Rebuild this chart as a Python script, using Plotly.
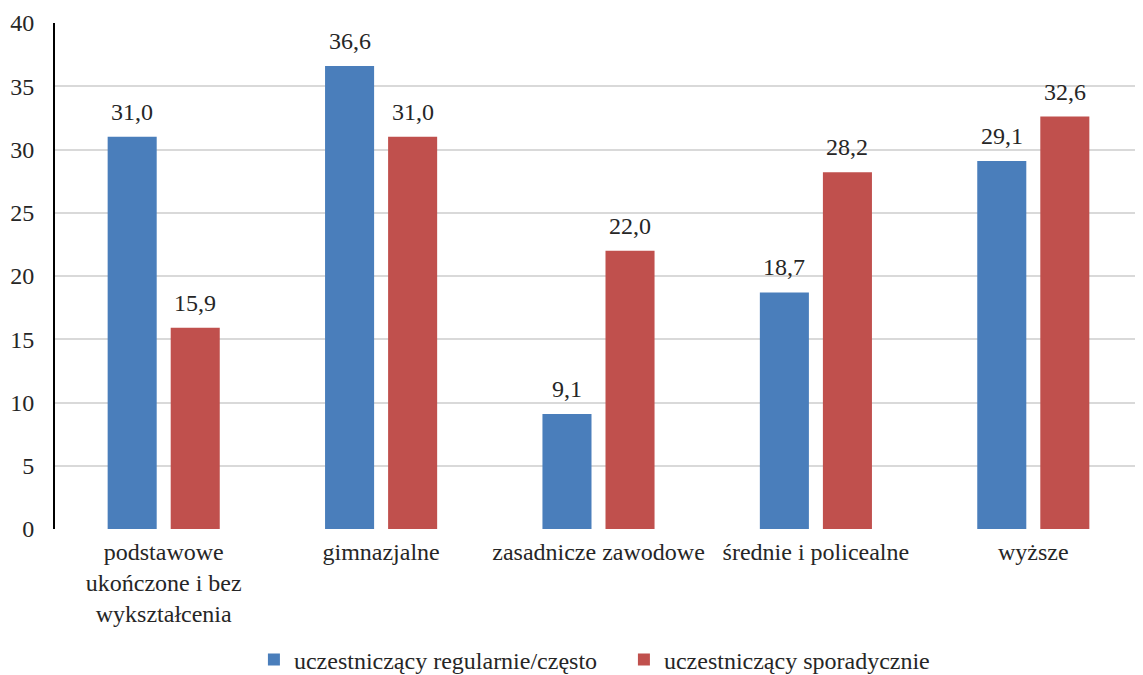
import plotly.graph_objects as go

categories = ["podstawowe<br>ukończone i bez<br>wykształcenia", "gimnazjalne",
              "zasadnicze zawodowe", "średnie i policealne", "wyższe"]
regular = [31.0, 36.6, 9.1, 18.7, 29.1]
sporadic = [15.9, 31.0, 22.0, 28.2, 32.6]
series_names = ["uczestniczący regularnie/często", "uczestniczący sporadycznie"]
colors = ["#4a7ebb", "#c0504d"]

def fmt(v):
    return f"{v:.1f}".replace(".", ",")

FONT = "Liberation Serif"
TXT = "#262626"
FS = 24

fig = go.Figure()
for name, vals, col in zip(series_names, [regular, sporadic], colors):
    fig.add_trace(go.Bar(x=categories, y=vals, name=name,
                         marker=dict(color=col, line=dict(width=0))))

# data labels above the bars
for vals, shift in zip([regular, sporadic], [-31.5, 31.5]):
    for c, v in zip(categories, vals):
        fig.add_annotation(x=c, y=v, xref="x", yref="y", text=fmt(v),
                           showarrow=False, xanchor="center", yanchor="bottom",
                           xshift=shift, yshift=10,
                           font=dict(family=FONT, size=FS, color=TXT))

fig.update_layout(
    width=1135, height=667,
    margin=dict(l=47, r=1, t=15, b=146, autoexpand=False),
    paper_bgcolor="white", plot_bgcolor="white",
    font=dict(family=FONT, size=FS, color=TXT),
    barmode="group", bargap=0.42, bargroupgap=0.222,
    showlegend=True,
    legend=dict(orientation="h", x=0.183, xanchor="left", y=-0.214, yanchor="top",
                font=dict(family=FONT, size=FS, color=TXT), itemwidth=30,
                entrywidth=325, entrywidthmode="pixels",
                traceorder="normal"),
    yaxis=dict(range=[0, 40], dtick=5, showgrid=True, gridcolor="#d9d9d9", gridwidth=1.5,
               showline=True, linecolor="black", linewidth=2, zeroline=False,
               ticks="", ticklabelstandoff=14, tickfont=dict(size=FS), automargin=False),
    xaxis=dict(showline=False, ticks="", tickfont=dict(size=FS), ticklabelstandoff=6,
               automargin=False),
)
fig.write_html("out.html")
